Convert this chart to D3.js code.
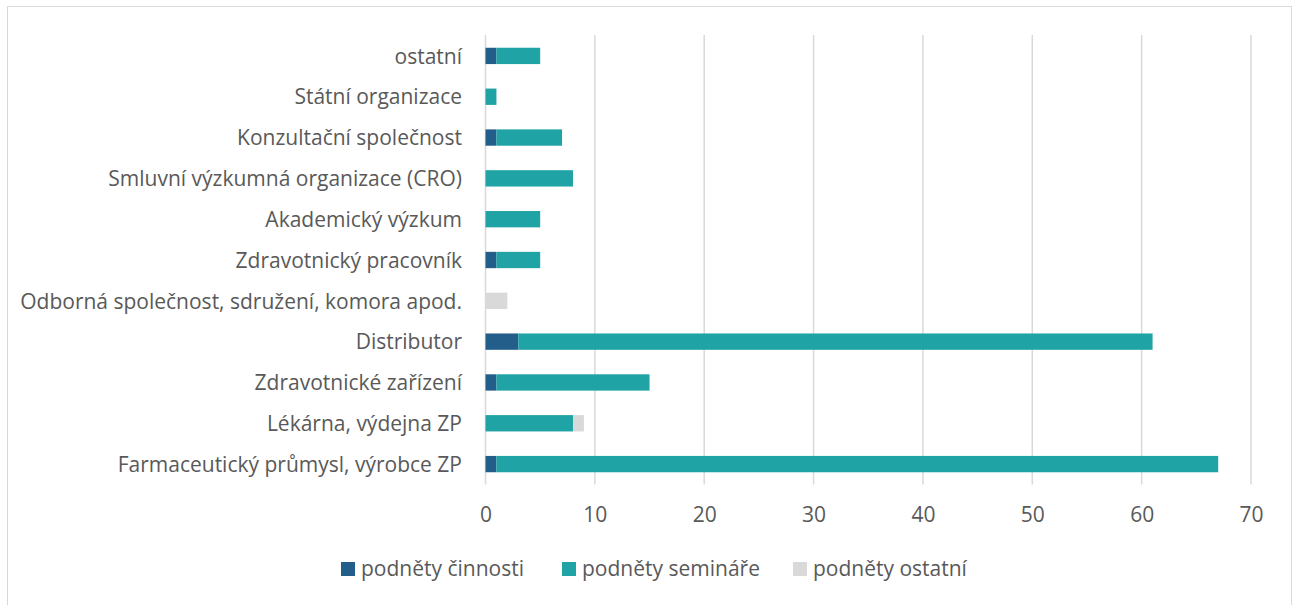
<!DOCTYPE html>
<html><head><meta charset="utf-8">
<script src="https://cdn.jsdelivr.net/npm/d3@7"></script>
<style>body{margin:0;background:#fff;}svg{display:block;font-family:"Open Sans",sans-serif;}</style>
</head><body><svg id="c" width="1293" height="605"></svg>
<script>
const categories = ["ostatní","Státní organizace","Konzultační společnost","Smluvní výzkumná organizace (CRO)","Akademický výzkum","Zdravotnický pracovník","Odborná společnost, sdružení, komora apod.","Distributor","Zdravotnické zařízení","Lékárna, výdejna ZP","Farmaceutický průmysl, výrobce ZP"];
const cinnosti  = [1,0,1,0,0,1,0,3,1,0,1];
const seminare  = [4,1,6,8,5,4,0,58,14,8,66];
const ostatni   = [0,0,0,0,0,0,2,0,0,1,0];
const seriesNames = ["podněty činnosti","podněty semináře","podněty ostatní"];
const colors = ["#235E8A","#1FA3A4","#D9D9D9"];
const xTicks = [0,10,20,30,40,50,60,70];
const FS = "21px";

const svg = d3.select("#c");
svg.append("rect").attr("x",7.5).attr("y",6.5).attr("width",1284).attr("height",610)
  .attr("fill","none").attr("stroke","#D9D9D9").attr("stroke-width",1);

const x = d3.scaleLinear().domain([0,70]).range([485.5,1251]);
const y = d3.scaleBand().domain(categories).range([35.5,484.5]).paddingInner(0.6).paddingOuter(0.3);

svg.append("g").selectAll("line").data(xTicks).join("line")
  .attr("x1",d=>x(d)).attr("x2",d=>x(d)).attr("y1",35).attr("y2",484.5)
  .attr("stroke","#D9D9D9").attr("stroke-width",1.5);

const data = categories.map((c,i)=>({cat:c, a:cinnosti[i], b:seminare[i], c2:ostatni[i]}));
const stack = d3.stack().keys(["a","b","c2"])(data);
svg.append("g").selectAll("g").data(stack).join("g").attr("fill",(d,i)=>colors[i])
  .selectAll("rect").data(d=>d).join("rect")
  .attr("x",d=>x(d[0])).attr("width",d=>x(d[1])-x(d[0]))
  .attr("y",d=>y(d.data.cat)).attr("height",y.bandwidth());

const yAxis = d3.axisLeft(y).tickSize(0).tickPadding(0);
const ya = svg.append("g").attr("transform","translate(462,1)").call(yAxis);
ya.select(".domain").remove();
ya.selectAll("text").attr("fill","#595959").style("font-size",FS).style("font-family","'Open Sans',sans-serif");

const xAxis = d3.axisBottom(x).tickValues(xTicks).tickSize(0).tickPadding(0);
const xa = svg.append("g").attr("transform","translate(0,507)").call(xAxis);
xa.select(".domain").remove();
xa.selectAll("text").attr("fill","#595959").style("font-size",FS).style("font-family","'Open Sans',sans-serif");

const legX = [341,562,793];
const lg = svg.append("g").selectAll("g").data(seriesNames).join("g")
  .attr("transform",(d,i)=>`translate(${legX[i]},562)`);
lg.append("rect").attr("width",14).attr("height",14).attr("fill",(d,i)=>colors[i]);
lg.append("text").attr("x",20).attr("y",7).attr("dy","0.35em").text(d=>d)
  .attr("fill","#595959").style("font-size",FS);
</script></body></html>
